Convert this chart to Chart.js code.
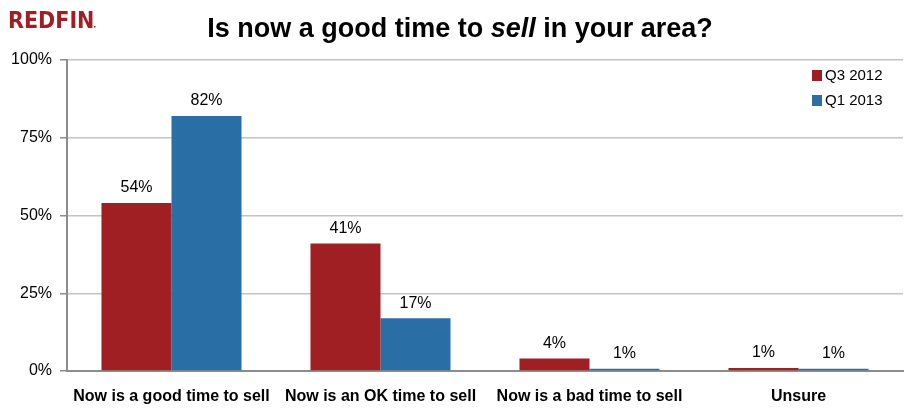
<!DOCTYPE html>
<html>
<head>
<meta charset="utf-8">
<script src="https://cdn.jsdelivr.net/npm/chart.js@4.4.0/dist/chart.umd.min.js"></script>
<style>
  html, body { margin: 0; padding: 0; background: #fff; }
  #wrap { width: 918px; height: 410px; position: relative; }
</style>
</head>
<body>
<div id="wrap"><canvas id="sellChart" width="918" height="410"></canvas></div>
<script>
const categories = ['Now is a good time to sell', 'Now is an OK time to sell', 'Now is a bad time to sell', 'Unsure'];
const seriesNames = ['Q3 2012', 'Q1 2013'];
const q3Values = [54, 41, 4, 1];
const q1Values = [82, 17, 0.7, 0.7];
const yTicks = [0, 25, 50, 75, 100];

const RED = '#a01f23';
const BLUE = '#2a6ea6';
const FONT = '"Liberation Sans", Arial, sans-serif';

// title, logo, legend and value labels
const decorPlugin = {
    id: 'decor',
    afterDraw(chart) {
        const ctx = chart.ctx;
        ctx.save();

        // logo
        ctx.fillStyle = RED;
        ctx.font = 'bold 23px "Liberation Sans Narrow", "DejaVu Sans Condensed", sans-serif';
        ctx.textAlign = 'left';
        ctx.textBaseline = 'alphabetic';
        ctx.fillText('REDFIN', 8, 28);
        ctx.fillRect(94, 26, 1.5, 1.5);

        // title with italic "sell"
        const parts = [['Is now a good time to ', 'bold'], ['sell', 'italic bold'], [' in your area?', 'bold']];
        let total = 0;
        parts.forEach(p => { ctx.font = p[1] + ' 27px ' + FONT; total += ctx.measureText(p[0]).width; });
        let x = 460 - total / 2;
        ctx.fillStyle = '#000';
        parts.forEach(p => {
            ctx.font = p[1] + ' 27px ' + FONT;
            ctx.fillText(p[0], x, 37);
            x += ctx.measureText(p[0]).width;
        });

        // legend
        ctx.font = '15px ' + FONT;
        ctx.textBaseline = 'middle';
        [RED, BLUE].forEach((c, i) => {
            const ly = 76 + i * 25;
            ctx.fillStyle = c;
            ctx.fillRect(812, ly - 6, 10, 11);
            ctx.fillStyle = '#000';
            ctx.fillText(seriesNames[i], 825, ly);
        });

        // value labels
        ctx.font = '16px ' + FONT;
        ctx.textAlign = 'center';
        ctx.textBaseline = 'bottom';
        ctx.fillStyle = '#000';
        chart.data.datasets.forEach((ds, di) => {
            chart.getDatasetMeta(di).data.forEach((bar, i) => {
                ctx.fillText(Math.ceil(ds.data[i]) + '%', bar.x, bar.y - 7);
            });
        });
        ctx.restore();
    }
};

new Chart(document.getElementById('sellChart'), {
    type: 'bar',
    data: {
        labels: categories,
        datasets: [
            { label: seriesNames[0], data: q3Values, backgroundColor: RED },
            { label: seriesNames[1], data: q1Values, backgroundColor: BLUE }
        ]
    },
    options: {
        responsive: false,
        animation: false,
        layout: { padding: { top: 60, right: 15, left: 0, bottom: 0 } },
        plugins: { legend: { display: false }, tooltip: { enabled: false } },
        datasets: { bar: { categoryPercentage: 0.67, barPercentage: 1.0 } },
        scales: {
            x: {
                grid: { display: false },
                border: { color: '#8c8c8c', width: 2 },
                ticks: { color: '#000', font: { family: FONT, size: 16, weight: 'bold' }, padding: 8, maxRotation: 0 },
                afterFit(scale) { scale.height = 39; }
            },
            y: {
                min: 0,
                max: 100,
                afterBuildTicks(scale) { scale.ticks = yTicks.map(v => ({ value: v })); },
                grid: { color: '#c4c4c4', lineWidth: 1.5, tickLength: 7, tickColor: '#8c8c8c', drawOnChartArea: true },
                border: { color: '#8c8c8c', width: 2 },
                ticks: {
                    color: '#000',
                    font: { family: FONT, size: 16 },
                    padding: 8,
                    callback: v => v + '%'
                },
                afterFit(scale) { scale.width = 67; }
            }
        }
    },
    plugins: [decorPlugin]
});
</script>
</body>
</html>
